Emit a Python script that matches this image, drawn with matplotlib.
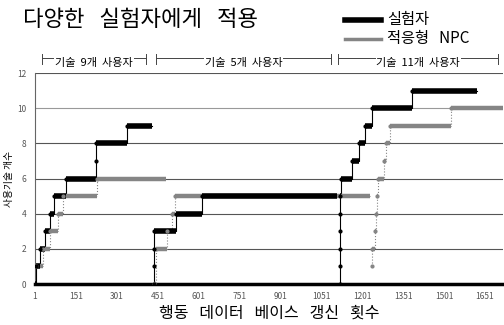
import matplotlib
matplotlib.use("Agg")
import matplotlib.pyplot as plt

plt.rcParams['font.family'] = ['Noto Sans CJK KR', 'DejaVu Sans']

# 계단 데이터 (변화 시점, 값, 끝점)
black_u1_x = [1, 5, 19, 38, 55, 70, 115, 226, 226, 338]
black_u1_y = [0, 1, 2, 3, 4, 5, 6, 7, 8, 9]
black_u1_end = 430
grey_u1_x = [5, 30, 55, 85, 103, 230]
grey_u1_y = [1, 2, 3, 4, 5, 6]
grey_u1_end = 483

black_u2_x = [439, 439, 439, 439, 519, 614]
black_u2_y = [0, 1, 2, 3, 4, 5]
black_u2_end = 1110
grey_u2_x = [439, 445, 486, 505, 515]
grey_u2_y = [0, 2, 3, 4, 5]
grey_u2_end = 1231

black_u3_x = [1118, 1118, 1118, 1118, 1118, 1118, 1125, 1162, 1188, 1210, 1236, 1385]
black_u3_y = [0, 1, 2, 3, 4, 5, 6, 7, 8, 9, 10, 11]
black_u3_end = 1623
grey_u3_x = [1238, 1238, 1248, 1252, 1256, 1260, 1282, 1288, 1304, 1525]
grey_u3_y = [1, 2, 3, 4, 5, 6, 7, 8, 9, 10]
grey_u3_end = 1717

x_ticks = [1, 151, 301, 451, 601, 751, 901, 1051, 1201, 1351, 1501, 1651]
y_ticks = [0, 2, 4, 6, 8, 10, 12]

groups = ['기술  9개  사용자', '기술  5개  사용자', '기술  11개  사용자']
group_spans = [(26, 410), (446, 1085), (1114, 1698)]

fig = plt.figure(figsize=(5.04, 3.25), dpi=100)
ax = fig.add_axes([0.069, 0.126, 0.929, 0.649])


def draw_steps(xs, ys, end, color, lw_thick, ls):
    ends = xs[1:] + [end]
    ax.step(xs + [end], ys + [ys[-1]], where='post', color=color, lw=0.8, ls=ls, zorder=3)
    ax.hlines(ys, xs, ends, color=color, lw=lw_thick, zorder=4)
    ax.plot(xs, ys, 'o', color=color, ms=2, zorder=5)


grey = '#858585'
draw_steps(grey_u1_x, grey_u1_y, grey_u1_end, grey, 3.2, ':')
draw_steps(grey_u2_x, grey_u2_y, grey_u2_end, grey, 3.2, ':')
draw_steps(grey_u3_x, grey_u3_y, grey_u3_end, grey, 3.2, ':')
draw_steps(black_u1_x, black_u1_y, black_u1_end, 'black', 4, '-')
draw_steps(black_u2_x, black_u2_y, black_u2_end, 'black', 4, '-')
draw_steps(black_u3_x, black_u3_y, black_u3_end, 'black', 4, '-')

for y in y_ticks[1:]:
    ax.axhline(y, color='#555555' if y != 10 else '#999999', lw=0.8, zorder=1)
ax.axhline(0, color='black', lw=2.5, zorder=2, clip_on=False)

ax.set_xlim(1, 1717)
ax.set_ylim(0, 12)
ax.set_xticks(x_ticks)
ax.set_yticks(y_ticks)
ax.tick_params(length=0, labelsize=6, labelcolor='#555555', pad=6)
for s in ['top', 'right', 'bottom']:
    ax.spines[s].set_visible(False)
ax.spines['left'].set_color('#666666')
ax.spines['left'].set_linewidth(0.8)

ax.set_ylabel('사용기술 개수', fontsize=7, labelpad=2)
ax.set_xlabel('행동   데이터   베이스   갱신   횟수', fontsize=11.5, labelpad=2)

# 사용자 구간 표시
for name, (a, b) in zip(groups, group_spans):
    ax.plot([a, b], [12.85, 12.85], color='#444444', lw=0.7, clip_on=False)
    ax.plot([a, a], [12.5, 13.1], color='#444444', lw=0.7, clip_on=False)
    ax.plot([b, b], [12.5, 13.1], color='#444444', lw=0.7, clip_on=False)
    ax.text((a + b) / 2, 12.55, name, ha='center', va='center', fontsize=8,
            bbox=dict(facecolor='white', edgecolor='none', pad=0.5))

fig.text(0.045, 0.94, '다양한   실험자에게   적용', fontsize=16, va='center')
fig.lines.append(plt.Line2D([0.685, 0.755], [0.94, 0.94], transform=fig.transFigure,
                            color='black', lw=4))
fig.lines.append(plt.Line2D([0.685, 0.755], [0.88, 0.88], transform=fig.transFigure,
                            color=grey, lw=2.5))
fig.text(0.768, 0.94, '실험자', fontsize=11, va='center')
fig.text(0.768, 0.88, '적응형   NPC', fontsize=11, va='center')

fig.savefig('out.png', dpi=100)
